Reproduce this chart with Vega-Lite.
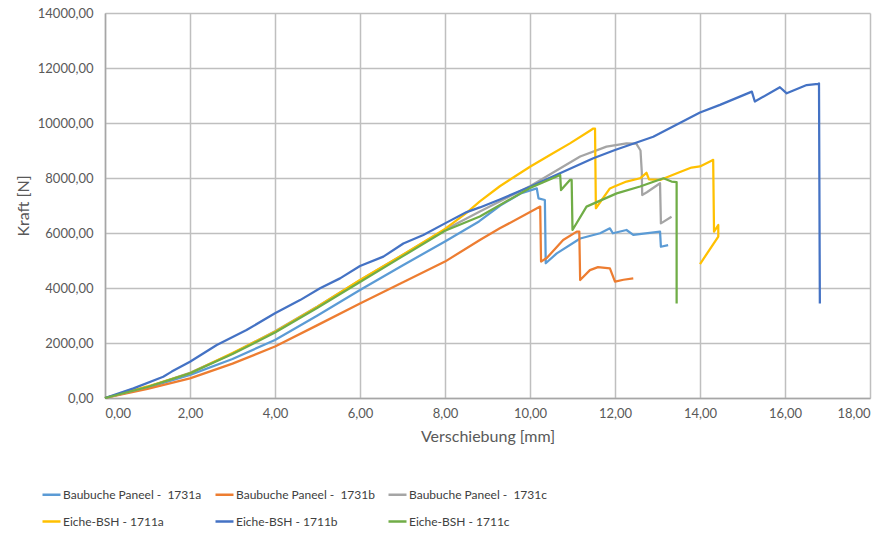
{
  "$schema": "https://vega.github.io/schema/vega-lite/v6.json",
  "width": 765,
  "height": 385,
  "autosize": {"type": "none"},
  "padding": {"left": 105, "top": 13, "right": 18, "bottom": 135},
  "background": "white",
  "config": {
    "locale": {"number": {"decimal": ",", "thousands": ".", "grouping": [3], "currency": ["", " €"]}},
    "font": "Lato",
    "view": {"stroke": null}
  },
  "data": {"values": [
    {"s":"Baubuche Paneel - \u00a01731a","i":0,"x":0,"y":0},
    {"s":"Baubuche Paneel - \u00a01731a","i":1,"x":1,"y":380},
    {"s":"Baubuche Paneel - \u00a01731a","i":2,"x":2,"y":840},
    {"s":"Baubuche Paneel - \u00a01731a","i":3,"x":3,"y":1420},
    {"s":"Baubuche Paneel - \u00a01731a","i":4,"x":4,"y":2110},
    {"s":"Baubuche Paneel - \u00a01731a","i":5,"x":5,"y":3000},
    {"s":"Baubuche Paneel - \u00a01731a","i":6,"x":6,"y":3930},
    {"s":"Baubuche Paneel - \u00a01731a","i":7,"x":7,"y":4820},
    {"s":"Baubuche Paneel - \u00a01731a","i":8,"x":8,"y":5690},
    {"s":"Baubuche Paneel - \u00a01731a","i":9,"x":8.8,"y":6420},
    {"s":"Baubuche Paneel - \u00a01731a","i":10,"x":9.3,"y":7000},
    {"s":"Baubuche Paneel - \u00a01731a","i":11,"x":9.8,"y":7450},
    {"s":"Baubuche Paneel - \u00a01731a","i":12,"x":10.16,"y":7620},
    {"s":"Baubuche Paneel - \u00a01731a","i":13,"x":10.2,"y":7260},
    {"s":"Baubuche Paneel - \u00a01731a","i":14,"x":10.35,"y":7200},
    {"s":"Baubuche Paneel - \u00a01731a","i":15,"x":10.37,"y":4900},
    {"s":"Baubuche Paneel - \u00a01731a","i":16,"x":10.63,"y":5260},
    {"s":"Baubuche Paneel - \u00a01731a","i":17,"x":11.18,"y":5800},
    {"s":"Baubuche Paneel - \u00a01731a","i":18,"x":11.65,"y":5990},
    {"s":"Baubuche Paneel - \u00a01731a","i":19,"x":11.88,"y":6170},
    {"s":"Baubuche Paneel - \u00a01731a","i":20,"x":11.95,"y":5990},
    {"s":"Baubuche Paneel - \u00a01731a","i":21,"x":12.27,"y":6110},
    {"s":"Baubuche Paneel - \u00a01731a","i":22,"x":12.43,"y":5930},
    {"s":"Baubuche Paneel - \u00a01731a","i":23,"x":13.06,"y":6050},
    {"s":"Baubuche Paneel - \u00a01731a","i":24,"x":13.08,"y":5500},
    {"s":"Baubuche Paneel - \u00a01731a","i":25,"x":13.25,"y":5560},

    {"s":"Baubuche Paneel - \u00a01731b","i":0,"x":0,"y":0},
    {"s":"Baubuche Paneel - \u00a01731b","i":1,"x":1,"y":330},
    {"s":"Baubuche Paneel - \u00a01731b","i":2,"x":2,"y":715},
    {"s":"Baubuche Paneel - \u00a01731b","i":3,"x":3,"y":1250},
    {"s":"Baubuche Paneel - \u00a01731b","i":4,"x":4,"y":1870},
    {"s":"Baubuche Paneel - \u00a01731b","i":5,"x":5,"y":2650},
    {"s":"Baubuche Paneel - \u00a01731b","i":6,"x":6,"y":3440},
    {"s":"Baubuche Paneel - \u00a01731b","i":7,"x":7,"y":4200},
    {"s":"Baubuche Paneel - \u00a01731b","i":8,"x":8,"y":4960},
    {"s":"Baubuche Paneel - \u00a01731b","i":9,"x":8.82,"y":5745},
    {"s":"Baubuche Paneel - \u00a01731b","i":10,"x":9.29,"y":6170},
    {"s":"Baubuche Paneel - \u00a01731b","i":11,"x":10.24,"y":6960},
    {"s":"Baubuche Paneel - \u00a01731b","i":12,"x":10.26,"y":4960},
    {"s":"Baubuche Paneel - \u00a01731b","i":13,"x":10.4,"y":5100},
    {"s":"Baubuche Paneel - \u00a01731b","i":14,"x":10.78,"y":5745},
    {"s":"Baubuche Paneel - \u00a01731b","i":15,"x":11.1,"y":6050},
    {"s":"Baubuche Paneel - \u00a01731b","i":16,"x":11.16,"y":6050},
    {"s":"Baubuche Paneel - \u00a01731b","i":17,"x":11.18,"y":4290},
    {"s":"Baubuche Paneel - \u00a01731b","i":18,"x":11.41,"y":4650},
    {"s":"Baubuche Paneel - \u00a01731b","i":19,"x":11.6,"y":4760},
    {"s":"Baubuche Paneel - \u00a01731b","i":20,"x":11.88,"y":4715},
    {"s":"Baubuche Paneel - \u00a01731b","i":21,"x":12.0,"y":4230},
    {"s":"Baubuche Paneel - \u00a01731b","i":22,"x":12.2,"y":4300},
    {"s":"Baubuche Paneel - \u00a01731b","i":23,"x":12.43,"y":4350},

    {"s":"Baubuche Paneel - \u00a01731c","i":0,"x":0,"y":0},
    {"s":"Baubuche Paneel - \u00a01731c","i":1,"x":1,"y":400},
    {"s":"Baubuche Paneel - \u00a01731c","i":2,"x":2,"y":920},
    {"s":"Baubuche Paneel - \u00a01731c","i":3,"x":3,"y":1620},
    {"s":"Baubuche Paneel - \u00a01731c","i":4,"x":4,"y":2430},
    {"s":"Baubuche Paneel - \u00a01731c","i":5,"x":5,"y":3330},
    {"s":"Baubuche Paneel - \u00a01731c","i":6,"x":6,"y":4280},
    {"s":"Baubuche Paneel - \u00a01731c","i":7,"x":7,"y":5200},
    {"s":"Baubuche Paneel - \u00a01731c","i":8,"x":8,"y":6120},
    {"s":"Baubuche Paneel - \u00a01731c","i":9,"x":8.82,"y":6780},
    {"s":"Baubuche Paneel - \u00a01731c","i":10,"x":10,"y":7700},
    {"s":"Baubuche Paneel - \u00a01731c","i":11,"x":11.18,"y":8780},
    {"s":"Baubuche Paneel - \u00a01731c","i":12,"x":11.8,"y":9140},
    {"s":"Baubuche Paneel - \u00a01731c","i":13,"x":12.27,"y":9260},
    {"s":"Baubuche Paneel - \u00a01731c","i":14,"x":12.5,"y":9250},
    {"s":"Baubuche Paneel - \u00a01731c","i":15,"x":12.6,"y":9000},
    {"s":"Baubuche Paneel - \u00a01731c","i":16,"x":12.63,"y":8230},
    {"s":"Baubuche Paneel - \u00a01731c","i":17,"x":12.64,"y":7380},
    {"s":"Baubuche Paneel - \u00a01731c","i":18,"x":12.75,"y":7480},
    {"s":"Baubuche Paneel - \u00a01731c","i":19,"x":13.06,"y":7810},
    {"s":"Baubuche Paneel - \u00a01731c","i":20,"x":13.08,"y":6350},
    {"s":"Baubuche Paneel - \u00a01731c","i":21,"x":13.33,"y":6590},

    {"s":"Eiche-BSH - 1711a","i":0,"x":0,"y":0},
    {"s":"Eiche-BSH - 1711a","i":1,"x":1,"y":420},
    {"s":"Eiche-BSH - 1711a","i":2,"x":2,"y":900},
    {"s":"Eiche-BSH - 1711a","i":3,"x":3,"y":1640},
    {"s":"Eiche-BSH - 1711a","i":4,"x":4,"y":2410},
    {"s":"Eiche-BSH - 1711a","i":5,"x":5,"y":3320},
    {"s":"Eiche-BSH - 1711a","i":6,"x":6,"y":4290},
    {"s":"Eiche-BSH - 1711a","i":7,"x":7,"y":5200},
    {"s":"Eiche-BSH - 1711a","i":8,"x":8,"y":6150},
    {"s":"Eiche-BSH - 1711a","i":9,"x":8.5,"y":6720},
    {"s":"Eiche-BSH - 1711a","i":10,"x":8.82,"y":7150},
    {"s":"Eiche-BSH - 1711a","i":11,"x":9.29,"y":7700},
    {"s":"Eiche-BSH - 1711a","i":12,"x":10,"y":8410},
    {"s":"Eiche-BSH - 1711a","i":13,"x":10.47,"y":8836},
    {"s":"Eiche-BSH - 1711a","i":14,"x":10.94,"y":9260},
    {"s":"Eiche-BSH - 1711a","i":15,"x":11.41,"y":9720},
    {"s":"Eiche-BSH - 1711a","i":16,"x":11.49,"y":9800},
    {"s":"Eiche-BSH - 1711a","i":17,"x":11.53,"y":9800},
    {"s":"Eiche-BSH - 1711a","i":18,"x":11.55,"y":6900},
    {"s":"Eiche-BSH - 1711a","i":19,"x":11.88,"y":7620},
    {"s":"Eiche-BSH - 1711a","i":20,"x":12.0,"y":7700},
    {"s":"Eiche-BSH - 1711a","i":21,"x":12.27,"y":7870},
    {"s":"Eiche-BSH - 1711a","i":22,"x":12.59,"y":7990},
    {"s":"Eiche-BSH - 1711a","i":23,"x":12.74,"y":8190},
    {"s":"Eiche-BSH - 1711a","i":24,"x":12.8,"y":7950},
    {"s":"Eiche-BSH - 1711a","i":25,"x":13.06,"y":7930},
    {"s":"Eiche-BSH - 1711a","i":26,"x":13.5,"y":8200},
    {"s":"Eiche-BSH - 1711a","i":27,"x":13.8,"y":8380},
    {"s":"Eiche-BSH - 1711a","i":28,"x":14.0,"y":8420},
    {"s":"Eiche-BSH - 1711a","i":29,"x":14.27,"y":8630},
    {"s":"Eiche-BSH - 1711a","i":30,"x":14.31,"y":8660},
    {"s":"Eiche-BSH - 1711a","i":31,"x":14.33,"y":6050},
    {"s":"Eiche-BSH - 1711a","i":32,"x":14.43,"y":6290},
    {"s":"Eiche-BSH - 1711a","i":33,"x":14.43,"y":5870},
    {"s":"Eiche-BSH - 1711a","i":34,"x":14.0,"y":4870},

    {"s":"Eiche-BSH - 1711b","i":0,"x":0,"y":0},
    {"s":"Eiche-BSH - 1711b","i":1,"x":0.67,"y":350},
    {"s":"Eiche-BSH - 1711b","i":2,"x":1.37,"y":775},
    {"s":"Eiche-BSH - 1711b","i":3,"x":1.57,"y":960},
    {"s":"Eiche-BSH - 1711b","i":4,"x":2.0,"y":1320},
    {"s":"Eiche-BSH - 1711b","i":5,"x":2.63,"y":1930},
    {"s":"Eiche-BSH - 1711b","i":6,"x":3.33,"y":2470},
    {"s":"Eiche-BSH - 1711b","i":7,"x":4.0,"y":3080},
    {"s":"Eiche-BSH - 1711b","i":8,"x":4.59,"y":3560},
    {"s":"Eiche-BSH - 1711b","i":9,"x":5.06,"y":3990},
    {"s":"Eiche-BSH - 1711b","i":10,"x":5.53,"y":4350},
    {"s":"Eiche-BSH - 1711b","i":11,"x":6.0,"y":4800},
    {"s":"Eiche-BSH - 1711b","i":12,"x":6.55,"y":5140},
    {"s":"Eiche-BSH - 1711b","i":13,"x":7.02,"y":5620},
    {"s":"Eiche-BSH - 1711b","i":14,"x":7.49,"y":5930},
    {"s":"Eiche-BSH - 1711b","i":15,"x":8.0,"y":6350},
    {"s":"Eiche-BSH - 1711b","i":16,"x":8.51,"y":6760},
    {"s":"Eiche-BSH - 1711b","i":17,"x":8.82,"y":6930},
    {"s":"Eiche-BSH - 1711b","i":18,"x":9.29,"y":7220},
    {"s":"Eiche-BSH - 1711b","i":19,"x":10.0,"y":7680},
    {"s":"Eiche-BSH - 1711b","i":20,"x":11.49,"y":8720},
    {"s":"Eiche-BSH - 1711b","i":21,"x":12.0,"y":9020},
    {"s":"Eiche-BSH - 1711b","i":22,"x":12.9,"y":9500},
    {"s":"Eiche-BSH - 1711b","i":23,"x":14.0,"y":10380},
    {"s":"Eiche-BSH - 1711b","i":24,"x":14.47,"y":10660},
    {"s":"Eiche-BSH - 1711b","i":25,"x":15.22,"y":11140},
    {"s":"Eiche-BSH - 1711b","i":26,"x":15.29,"y":10780},
    {"s":"Eiche-BSH - 1711b","i":27,"x":15.88,"y":11300},
    {"s":"Eiche-BSH - 1711b","i":28,"x":16.04,"y":11080},
    {"s":"Eiche-BSH - 1711b","i":29,"x":16.51,"y":11380},
    {"s":"Eiche-BSH - 1711b","i":30,"x":16.78,"y":11420},
    {"s":"Eiche-BSH - 1711b","i":31,"x":16.8,"y":11440},
    {"s":"Eiche-BSH - 1711b","i":32,"x":16.82,"y":3440},

    {"s":"Eiche-BSH - 1711c","i":0,"x":0,"y":0},
    {"s":"Eiche-BSH - 1711c","i":1,"x":1,"y":400},
    {"s":"Eiche-BSH - 1711c","i":2,"x":2,"y":900},
    {"s":"Eiche-BSH - 1711c","i":3,"x":3,"y":1600},
    {"s":"Eiche-BSH - 1711c","i":4,"x":4,"y":2380},
    {"s":"Eiche-BSH - 1711c","i":5,"x":5,"y":3280},
    {"s":"Eiche-BSH - 1711c","i":6,"x":6,"y":4220},
    {"s":"Eiche-BSH - 1711c","i":7,"x":7,"y":5150},
    {"s":"Eiche-BSH - 1711c","i":8,"x":8,"y":6080},
    {"s":"Eiche-BSH - 1711c","i":9,"x":8.82,"y":6600},
    {"s":"Eiche-BSH - 1711c","i":10,"x":10,"y":7640},
    {"s":"Eiche-BSH - 1711c","i":11,"x":10.71,"y":8110},
    {"s":"Eiche-BSH - 1711c","i":12,"x":10.73,"y":7560},
    {"s":"Eiche-BSH - 1711c","i":13,"x":10.94,"y":7930},
    {"s":"Eiche-BSH - 1711c","i":14,"x":10.98,"y":7930},
    {"s":"Eiche-BSH - 1711c","i":15,"x":11.0,"y":6110},
    {"s":"Eiche-BSH - 1711c","i":16,"x":11.33,"y":6960},
    {"s":"Eiche-BSH - 1711c","i":17,"x":12.04,"y":7440},
    {"s":"Eiche-BSH - 1711c","i":18,"x":12.59,"y":7690},
    {"s":"Eiche-BSH - 1711c","i":19,"x":13.14,"y":7990},
    {"s":"Eiche-BSH - 1711c","i":20,"x":13.33,"y":7870},
    {"s":"Eiche-BSH - 1711c","i":21,"x":13.45,"y":7850},
    {"s":"Eiche-BSH - 1711c","i":22,"x":13.45,"y":3440}
  ]},
  "mark": {"type": "line", "strokeWidth": 2.25, "strokeJoin": "round"},
  "encoding": {
    "x": {
      "field": "x", "type": "quantitative",
      "scale": {"domain": [0, 18], "nice": false, "zero": false},
      "axis": {
        "values": [0, 2, 4, 6, 8, 10, 12, 14, 16, 18],
        "format": ".2f",
        "title": "Verschiebung [mm]",
        "grid": true, "gridColor": "#BFBFBF", "gridWidth": 1.5,
        "domainColor": "#A6A6A6", "domainWidth": 1.5,
        "ticks": false, "labelPadding": 9,
        "labelFont": "Lato", "labelFontSize": 13, "labelColor": "#595959",
        "titleFont": "Lato", "titleFontSize": 16, "titleFontWeight": "normal", "titleColor": "#595959",
        "titlePadding": 8
      }
    },
    "y": {
      "field": "y", "type": "quantitative",
      "scale": {"domain": [0, 14000], "nice": false},
      "axis": {
        "values": [0, 2000, 4000, 6000, 8000, 10000, 12000, 14000],
        "format": ".2f",
        "title": "Kraft [N]",
        "grid": true, "gridColor": "#BFBFBF", "gridWidth": 1.5,
        "domainColor": "#A6A6A6", "domainWidth": 1.5,
        "ticks": false, "labelPadding": 12,
        "labelFont": "Lato", "labelFontSize": 13, "labelColor": "#595959",
        "titleFont": "Lato", "titleFontSize": 16, "titleFontWeight": "normal", "titleColor": "#595959",
        "titlePadding": 6
      }
    },
    "color": {
      "field": "s", "type": "nominal",
      "scale": {
        "domain": ["Baubuche Paneel - \u00a01731a", "Baubuche Paneel - \u00a01731b", "Baubuche Paneel - \u00a01731c", "Eiche-BSH - 1711a", "Eiche-BSH - 1711b", "Eiche-BSH - 1711c"],
        "range": ["#5B9BD5", "#ED7D31", "#A5A5A5", "#FFC000", "#4472C4", "#70AD47"]
      },
      "legend": {
        "title": null,
        "orient": "none",
        "legendX": -64,
        "legendY": 471,
        "direction": "horizontal",
        "columns": 3,
        "columnPadding": 8,
        "rowPadding": 10,
        "symbolType": "stroke",
        "symbolSize": 324,
        "symbolStrokeWidth": 2.5,
        "labelFont": "Lato",
        "labelFontSize": 12,
        "labelColor": "#404040",
        "labelLimit": 300,
        "labelOffset": 1
      }
    },
    "order": {"field": "i", "type": "quantitative"}
  }
}
